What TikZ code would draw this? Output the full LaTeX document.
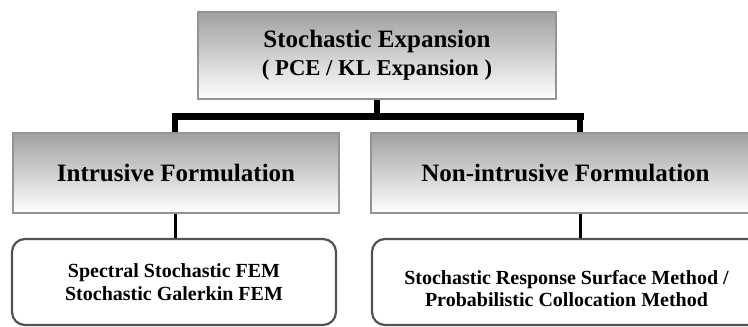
\documentclass[tikz,border=0pt]{standalone}
\usepackage{fontspec}
\setmainfont{Liberation Serif}
\begin{document}
\begin{tikzpicture}[x=1pt,y=-1pt,
  gradbox/.style={draw=black!42, line width=1.6pt, top color=black!37, bottom color=white,
    inner sep=0pt, align=center},
  methodbox/.style={draw=black!68, line width=2.2pt, rounded corners=13pt, fill=white,
    inner sep=0pt, align=center},
  bigtext/.style={font=\bfseries\fontsize{25}{28}\selectfont},
  smalltext/.style={font=\bfseries\fontsize{20}{22.5}\selectfont},
  heavy/.style={line width=7pt},
  stem/.style={line width=5.5pt},
  thin stem/.style={line width=3pt}]
\useasboundingbox (0,0) rectangle (748,327);
\clip (0,0) rectangle (748,327);

% root of the hierarchy
\node[gradbox, bigtext, minimum width=358pt, minimum height=87pt] (root) at (377,55.5)
  {Stochastic Expansion\\
   {\fontsize{22.7}{28}\selectfont ( PCE / KL Expansion )}};

% formulation level
\node[gradbox, bigtext, minimum width=326pt, minimum height=80pt] (intr) at (176,173)
  {Intrusive Formulation};
\node[gradbox, bigtext, minimum width=389pt, minimum height=80pt] (nonintr) at (565.5,173)
  {Non-intrusive Formulation};

% method level
\node[methodbox, smalltext, minimum width=324pt, minimum height=86pt] (galerkin) at (174,282)
  {Spectral Stochastic FEM\\ Stochastic Galerkin FEM};
\node[methodbox, smalltext, minimum width=389pt, minimum height=86pt] (colloc) at (566.5,282)
  {\rule{0pt}{27pt}Stochastic Response Surface Method /\\ Probabilistic Collocation Method};

% branch points of the tree
\coordinate (barL) at (175,116.5);
\coordinate (barR) at (580,116.5);
\coordinate (barM) at (root.south |- barL);

% connectors
\draw[stem] (root.south) -- (barM);
\draw[heavy, line cap=rect] (barL) -- (barR);
\draw[stem] (barL) -- (barL |- intr.north);
\draw[stem] (barR) -- (barR |- nonintr.north);
\draw[thin stem] (barL |- intr.south) -- (barL |- galerkin.north);
\draw[thin stem] (barR |- nonintr.south) -- (barR |- colloc.north);
\end{tikzpicture}
\end{document}
